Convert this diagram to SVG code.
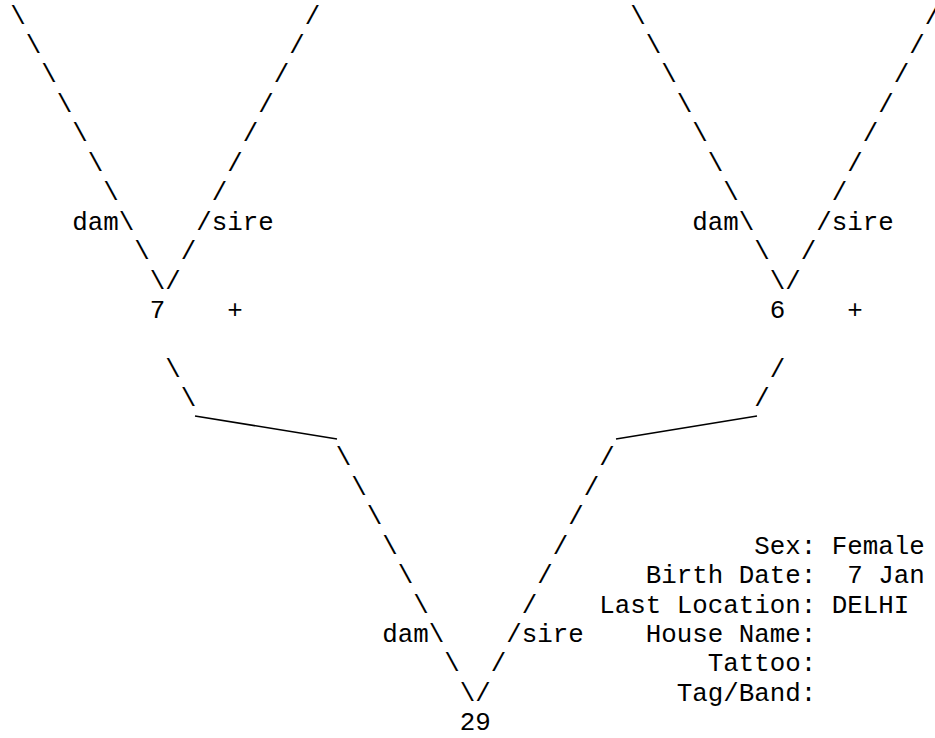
<svg xmlns="http://www.w3.org/2000/svg" width="935" height="738" viewBox="0 0 935 738">
<style>
text{font-family:"Liberation Mono","Courier New",monospace;font-size:25.83px;fill:#000}
.info{text-anchor:end}
.ln{stroke:#000;stroke-width:1.6;fill:none}
</style>
<rect width="935" height="738" fill="#fff"/>
<g id="connectors">
<text x="10.25 25.75 41.25 56.75 72.25 87.75 103.25 118.75 134.25 149.75" y="23.5 52.95 82.4 111.85 141.3 170.75 200.2 229.65 259.1 288.55">\\\\\\\\\\</text>
<text x="304.75 289.25 273.75 258.25 242.75 227.25 211.75 196.25 180.75 165.25" y="23.5 52.95 82.4 111.85 141.3 170.75 200.2 229.65 259.1 288.55">//////////</text>
<text x="630.25 645.75 661.25 676.75 692.25 707.75 723.25 738.75 754.25 769.75" y="23.5 52.95 82.4 111.85 141.3 170.75 200.2 229.65 259.1 288.55">\\\\\\\\\\</text>
<text x="924.75 909.25 893.75 878.25 862.75 847.25 831.75 816.25 800.75 785.25" y="23.5 52.95 82.4 111.85 141.3 170.75 200.2 229.65 259.1 288.55">//////////</text>
<text x="165.25 180.75" y="376.9 406.35">\\</text>
<text x="769.75 754.25" y="376.9 406.35">//</text>
<line class="ln" x1="195" y1="416" x2="337" y2="439"/>
<line class="ln" x1="757" y1="416" x2="616" y2="439"/>
<text x="335.75 351.25 366.75 382.25 397.75 413.25 428.75 444.25 459.75" y="465.25 494.7 524.15 553.6 583.05 612.5 641.95 671.4 700.85">\\\\\\\\\</text>
<text x="599.25 583.75 568.25 552.75 537.25 521.75 506.25 490.75 475.25" y="465.25 494.7 524.15 553.6 583.05 612.5 641.95 671.4 700.85">/////////</text>
<text x="72.25" y="229.65">dam</text>
<text x="211.75" y="229.65">sire</text>
<text x="692.25" y="229.65">dam</text>
<text x="831.75" y="229.65">sire</text>
<text x="382.25" y="641.95">dam</text>
<text x="521.75" y="641.95">sire</text>
</g>
<g id="node-7">
<text x="149.75" y="318">7</text>
<text x="227.25" y="318">+</text>
</g>
<g id="node-6">
<text x="769.75" y="318">6</text>
<text x="847.25" y="318">+</text>
</g>
<g id="node-29">
<text x="459.75" y="730.3">29</text>
<text class="info" x="816.25" y="553.6">Sex:</text>
<text x="831.75" y="553.6">Female</text>
<text class="info" x="816.25" y="583.05">Birth Date:</text>
<text x="847.25" y="583.05">7 Jan</text>
<text class="info" x="816.25" y="612.5">Last Location:</text>
<text x="831.75" y="612.5">DELHI</text>
<text class="info" x="816.25" y="641.95">House Name:</text>
<text class="info" x="816.25" y="671.4">Tattoo:</text>
<text class="info" x="816.25" y="700.85">Tag/Band:</text>
</g>
</svg>
